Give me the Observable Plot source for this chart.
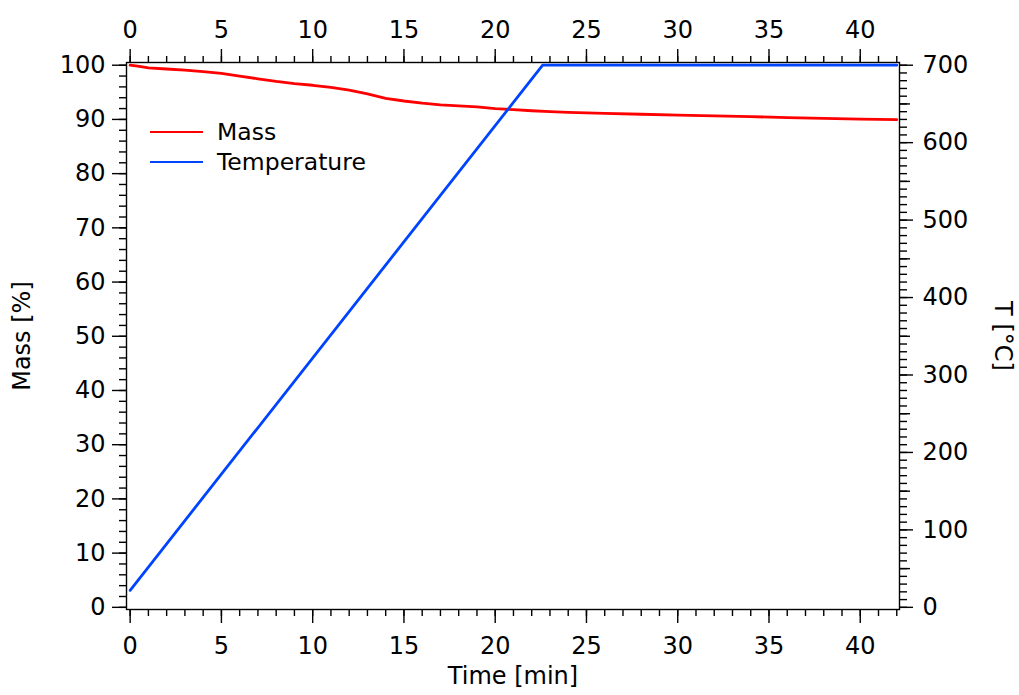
<!DOCTYPE html>
<html>
<head>
<meta charset="utf-8">
<script src="https://cdn.jsdelivr.net/npm/d3@7"></script>
<script src="https://cdn.jsdelivr.net/npm/@observablehq/plot@0.6"></script>
<style>
  html, body { margin: 0; padding: 0; background: #fff; }
  #chart { position: relative; width: 1019px; height: 695px; font-family: "DejaVu Sans", sans-serif; }
  #legend { position: absolute; left: 150px; top: 117px; font-size: 23.5px; color: #000; }
  #legend .row { display: flex; align-items: center; height: 30px; }
  #legend .swatch { width: 53px; height: 2.8px; margin-right: 14px; }
</style>
</head>
<body>
<div id="chart"></div>
<script>
// Thermogravimetric run: sample mass and furnace temperature vs. time
const timeMin = [0, 0.5, 1, 2, 3, 4, 5, 6, 7, 8, 9, 10, 11, 12, 13, 14, 15, 16, 17, 18, 19, 20,
                 21, 22, 23, 24, 25, 26, 28, 30, 32, 34, 36, 38, 40, 42];
const massPct = [100.0, 99.8, 99.5, 99.3, 99.1, 98.8, 98.5, 98.0, 97.5, 97.0, 96.6, 96.3, 95.9,
                 95.4, 94.7, 93.9, 93.4, 93.0, 92.7, 92.5, 92.3, 92.0, 91.8, 91.6, 91.45, 91.3,
                 91.2, 91.1, 90.95, 90.8, 90.65, 90.5, 90.35, 90.2, 90.05, 89.95];

// Heating programme: linear ramp, then isothermal hold
const tempTime = [0, 22.6, 42];
const tempC = [22, 700, 700];

// Axis ticks
const timeMajor = [0, 5, 10, 15, 20, 25, 30, 35, 40];
const timeMinor = d3.range(0, 43, 1);
const massMajor = [0, 10, 20, 30, 40, 50, 60, 70, 80, 90, 100];
const massMinor = d3.range(0, 101, 2);
const tempMajor = [0, 100, 200, 300, 400, 500, 600, 700];
const tempMid = [50, 150, 250, 350, 450, 550, 650];
const tempMinor = d3.range(0, 701, 10);

// Series labels and colours
const seriesNames = ["Mass", "Temperature"];
const seriesColors = ["#ff0000", "#0044ff"];

// The temperature axis shares the mass scale: 700 °C sits at 100 %
const tScale = 7;

const massData = timeMin.map((t, i) => ({t, v: massPct[i]}));
const tempData = tempTime.map((t, i) => ({t, v: tempC[i] / tScale}));

const noText = () => "";
const axisStyle = {stroke: "#000", strokeWidth: 1.4, label: null, fontSize: 24};

const chart = Plot.plot({
  width: 1019,
  height: 695,
  marginLeft: 126,
  marginRight: 120,
  marginTop: 62,
  marginBottom: 86,
  style: {fontFamily: "DejaVu Sans, sans-serif", fontSize: "24px", color: "#000", background: "#fff", overflow: "visible"},
  x: {domain: [-0.2, 42.15], label: null},
  y: {domain: [-0.4, 100.5], label: null},
  marks: [
    // bottom time axis
    Plot.axisX(timeMinor, {anchor: "bottom", tickSize: 7, tickFormat: noText, ...axisStyle}),
    Plot.axisX(timeMajor, {anchor: "bottom", tickSize: 14, tickPadding: 13, ...axisStyle}),
    // top time axis
    Plot.axisX(timeMinor, {anchor: "top", tickSize: 7, tickFormat: noText, ...axisStyle}),
    Plot.axisX(timeMajor, {anchor: "top", tickSize: 14, tickPadding: 11, ...axisStyle}),
    // left mass axis
    Plot.axisY(massMinor, {anchor: "left", tickSize: 7, tickFormat: noText, ...axisStyle}),
    Plot.axisY(massMajor, {anchor: "left", tickSize: 14, tickPadding: 7, ...axisStyle}),
    // right temperature axis
    Plot.axisY(tempMinor.map(d => d / tScale), {anchor: "right", tickSize: 7, tickFormat: noText, ...axisStyle}),
    Plot.axisY(tempMid.map(d => d / tScale), {anchor: "right", tickSize: 10, tickFormat: noText, ...axisStyle}),
    Plot.axisY(tempMajor.map(d => d / tScale), {anchor: "right", tickSize: 13, tickPadding: 10,
      tickFormat: d => String(Math.round(d * tScale)), ...axisStyle}),
    Plot.frame({stroke: "#000", strokeWidth: 1.4}),
    // axis titles
    Plot.text(["Time [min]"], {frameAnchor: "bottom", dy: 74, text: d => d, fontSize: 24, textAnchor: "middle"}),
    Plot.text(["Mass [%]"], {frameAnchor: "left", dx: -104, rotate: -90, text: d => d, fontSize: 24, textAnchor: "middle"}),
    Plot.text(["T [°C]"], {frameAnchor: "right", dx: 103, rotate: 90, text: d => d, fontSize: 24, textAnchor: "middle"}),
    // series
    Plot.line(massData, {x: "t", y: "v", stroke: seriesColors[0], strokeWidth: 2.8}),
    Plot.line(tempData, {x: "t", y: "v", stroke: seriesColors[1], strokeWidth: 2.8})
  ]
});

const host = document.getElementById("chart");
host.appendChild(chart);

// legend in the upper-left of the plot area
const legend = document.createElement("div");
legend.id = "legend";
seriesNames.forEach((name, i) => {
  const row = document.createElement("div");
  row.className = "row";
  const sw = document.createElement("span");
  sw.className = "swatch";
  sw.style.background = seriesColors[i];
  const label = document.createElement("span");
  label.textContent = name;
  row.appendChild(sw);
  row.appendChild(label);
  legend.appendChild(row);
});
host.appendChild(legend);
</script>
</body>
</html>
